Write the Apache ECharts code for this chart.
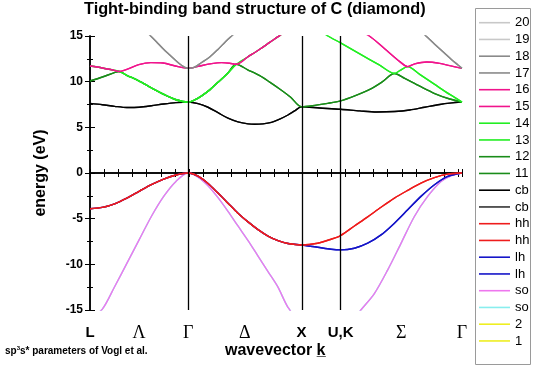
<!DOCTYPE html>
<html><head><meta charset="utf-8">
<script src="https://cdn.jsdelivr.net/npm/echarts@6/dist/echarts.min.js"></script>
<style>html,body{margin:0;padding:0;background:#fff}#c{width:537px;height:369px}</style>
</head><body><div id="c"></div>
<script>
// ---- data (k in units of 2*pi/a, energies in eV) ----
const symLines = [0.866, 1.866, 2.21];           // Gamma, X, U/K vertical lines
const kLabelPos = [0, 0.433, 0.866, 1.366, 1.866, 2.21, 2.745, 3.281];
const kLabels = ['L', 'Λ', 'Γ', 'Δ', 'X', 'U,K', 'Σ', 'Γ'];
const kMax = 3.281;
const yTicks = [-15, -10, -5, 0, 5, 10, 15];
const legendLabels = ['1','2','so','so','lh','lh','hh','hh','cb','cb','11','12','13','14','15','16','17','18','19','20'];

const band_1_2 = [[0,-18.5],[0.866,-21.5],[1.866,-17.5],[2.21,-18.0],[3.281,-21.5]];
const band_so = [[0,-15.9],[0.109,-14.9],[0.217,-12.45],[0.325,-9.9],[0.433,-7.33],[0.541,-4.76],[0.650,-2.56],[0.758,-0.92],[0.866,0],
  [0.953,-0.45],[1.041,-1.4],[1.129,-2.7],[1.217,-4.2],[1.305,-5.8],[1.394,-7.4],[1.482,-9.1],[1.570,-10.8],[1.658,-12.5],[1.746,-14.7],[1.866,-16.5],
  [2.04,-16.9],[2.21,-17.0],[2.332,-15.9],[2.389,-15.0],[2.508,-13.2],[2.626,-10.6],[2.743,-7.7],[2.861,-4.76],[2.978,-2.56],[3.096,-0.92],[3.184,-0.3],[3.281,0]];
const band_lh = [[0,-3.92],[0.109,-3.77],[0.217,-3.37],[0.325,-2.75],[0.433,-2.01],[0.541,-1.28],[0.650,-0.66],[0.758,-0.22],[0.866,0],
  [0.953,-0.35],[1.041,-1.15],[1.129,-2.2],[1.217,-3.3],[1.305,-4.4],[1.394,-5.35],[1.482,-6.2],[1.570,-6.9],[1.658,-7.4],[1.746,-7.72],[1.866,-7.88],
  [2.008,-8.13],[2.126,-8.35],[2.21,-8.42],[2.332,-8.24],[2.449,-7.69],[2.567,-6.78],[2.685,-5.49],[2.802,-4.03],[2.919,-2.56],[3.038,-1.28],[3.155,-0.37],[3.281,0]];
const band_hh = [[0,-3.92],[0.109,-3.77],[0.217,-3.37],[0.325,-2.75],[0.433,-2.01],[0.541,-1.28],[0.650,-0.66],[0.758,-0.22],[0.866,0],
  [0.953,-0.35],[1.041,-1.15],[1.129,-2.2],[1.217,-3.3],[1.305,-4.4],[1.394,-5.35],[1.482,-6.2],[1.570,-6.9],[1.658,-7.4],[1.746,-7.72],[1.866,-7.88],
  [2.008,-7.69],[2.126,-7.25],[2.21,-6.85],[2.332,-5.8],[2.449,-4.8],[2.567,-3.75],[2.685,-2.75],[2.802,-1.9],[2.919,-1.1],[3.038,-0.5],[3.155,-0.12],[3.281,0]];
const band_cb = [[0,7.62],[0.109,7.48],[0.217,7.3],[0.325,7.17],[0.433,7.2],[0.541,7.36],[0.650,7.56],[0.758,7.71],[0.866,7.77],
  [0.953,7.6],[1.041,7.2],[1.129,6.6],[1.217,6.0],[1.305,5.6],[1.394,5.38],[1.453,5.33],[1.526,5.38],[1.6,5.55],[1.673,5.9],[1.746,6.35],[1.805,6.8],[1.866,7.25],
  [2.026,7.12],[2.21,6.98],[2.379,6.8],[2.529,6.68],[2.687,6.73],[2.820,6.9],[2.952,7.2],[3.085,7.5],[3.173,7.65],[3.281,7.77]];
const band_11_12 = [[0,10.07],[0.109,10.51],[0.215,10.99],[0.256,11.12],[0.324,10.7],[0.430,10.1],[0.538,9.35],[0.644,8.65],[0.753,8.05],[0.866,7.77],
  [0.923,8.0],[0.985,8.45],[1.056,9.1],[1.126,9.9],[1.206,10.8],[1.291,11.9],[1.391,11.3],[1.497,10.65],[1.585,9.95],[1.673,9.2],[1.770,8.3],[1.866,7.25],
  [1.982,7.4],[2.097,7.62],[2.21,7.9],[2.335,8.45],[2.468,9.15],[2.574,9.95],[2.685,10.9],[2.776,10.35],[2.908,9.5],[3.040,8.7],[3.173,8.1],[3.281,7.77]];
const band_13_14 = [[0,11.71],[0.109,11.5],[0.215,11.24],[0.256,11.12],[0.324,10.7],[0.430,10.1],[0.538,9.35],[0.644,8.65],[0.753,8.05],[0.866,7.77],
  [0.923,8.0],[0.985,8.45],[1.056,9.1],[1.126,9.9],[1.206,10.8],[1.291,11.9],[1.391,12.7],[1.497,13.55],[1.585,14.3],[1.673,15.05],[1.779,15.9],[1.866,16.6],
  [1.982,16.0],[2.099,15.0],[2.21,14.25],[2.379,13.05],[2.555,11.8],[2.685,10.9],[2.732,11.2],[2.802,11.65],[2.908,10.8],[3.040,9.7],[3.173,8.6],[3.281,7.77]];
const band_15_16 = [[0,11.71],[0.109,11.5],[0.215,11.24],[0.256,11.12],[0.324,11.35],[0.430,11.87],[0.538,12.09],[0.644,12.05],[0.753,11.71],[0.866,11.46],
  [0.968,11.72],[1.073,11.98],[1.161,12.08],[1.232,12.02],[1.291,11.9],[1.391,12.7],[1.497,13.55],[1.585,14.3],[1.673,15.05],[1.779,15.9],[1.866,16.6],
  [2.04,16.5],[2.21,16.4],[2.335,15.8],[2.464,15.0],[2.599,13.6],[2.732,12.2],[2.802,11.65],[2.864,11.95],[2.970,12.15],[3.085,12.0],[3.173,11.75],[3.281,11.46]];
const band_17_18 = [[0,17.5],[0.3,16.8],[0.482,15.6],[0.535,15.0],[0.591,14.3],[0.645,13.6],[0.701,12.95],[0.754,12.35],[0.807,11.8],[0.866,11.46],
  [0.923,11.6],[0.985,12.1],[1.056,12.7],[1.126,13.5],[1.197,14.4],[1.259,15.1],[1.321,15.8],[1.6,17.5],[1.866,18.0],
  [2.21,17.6],[2.6,17.0],[2.864,16.1],[2.963,15.0],[3.040,14.1],[3.128,13.1],[3.190,12.4],[3.243,11.85],[3.281,11.46]];
const band_19_20 = [[0,19.0],[0.866,21.0],[1.866,19.5],[2.21,19.8],[3.281,21.0]];

// ---- build ----
const bandOf = [null, band_1_2, band_1_2, band_so, band_so, band_lh, band_lh, band_hh, band_hh, band_cb, band_cb,
  band_11_12, band_11_12, band_13_14, band_13_14, band_15_16, band_15_16, band_17_18, band_17_18, band_19_20, band_19_20];
const colorOf = [null, '#eeee22', '#eeee22', '#88eeee', '#ee77ee', '#1515c8', '#1515c8', '#ee1c1c', '#ee1c1c', '#333333', '#000000',
  '#1a8c1a', '#1a8c1a', '#22ee22', '#22ee22', '#f0148c', '#f0148c', '#8a8a8a', '#8a8a8a', '#c8c8c8', '#c8c8c8'];

const series = [];
for (let i = 1; i <= 20; i++) {
  series.push({
    type: 'line', name: 'band' + i, data: bandOf[i], symbol: 'none', showSymbol: false,
    smooth: 0.3, clip: true, silent: true, xAxisIndex: 0, yAxisIndex: 0,
    lineStyle: { color: colorOf[i], width: 1.4 }, itemStyle: { color: colorOf[i] }
  });
}
series[0].markLine = {
  silent: true, symbol: ['none', 'none'], label: { show: false }, animation: false,
  lineStyle: { color: '#000', width: 1.3, type: 'solid' },
  data: symLines.map(v => ({ xAxis: v }))
};

const legendNames = [];
for (let i = 20; i >= 1; i--) legendNames.push('band' + i);

const chart = echarts.init(document.getElementById('c'), null, { renderer: 'canvas' });
const axisLineStyle = { color: '#000', width: 1.5 };
chart.setOption({
  animation: false,
  backgroundColor: '#fff',
  textStyle: { fontFamily: 'Liberation Sans' },
  title: {
    text: 'Tight-binding band structure of C (diamond)', left: 84, top: 2, padding: 0,
    textStyle: { fontSize: 16.3, fontWeight: 'bold', color: '#000', fontFamily: 'Liberation Sans' }
  },
  grid: { left: 90, right: 75, top: 36, bottom: 59, containLabel: false },
  graphic: [
    { type: 'rect', z: 0, shape: { x: 475.5, y: 8.5, width: 55, height: 356 }, style: { fill: '#fff', stroke: '#9a9a9a', lineWidth: 1 } },
    { type: 'text', left: 5, top: 345, z: 10, style: {
        text: '{a|sp}{s|3}{a|s* parameters of Vogl et al.}',
        rich: { a: { fontSize: 10, fontWeight: 'bold', fontFamily: 'Liberation Sans', fill: '#000', lineHeight: 12 },
                s: { fontSize: 6, fontWeight: 'bold', fontFamily: 'Liberation Sans', fill: '#000', verticalAlign: 'top', lineHeight: 12 } } } },
    { type: 'text', left: 225, top: 343, z: 10, style: { text: 'wavevector k\u0332', font: 'bold 16px "Liberation Sans"', fill: '#000' } }
  ],
  legend: {
    orient: 'vertical', left: 479, top: 16.2, padding: 0, selectedMode: false,
    data: legendNames, icon: 'rect', itemWidth: 31, itemHeight: 1.6, itemGap: 3.75,
    formatter: n => legendLabels[parseInt(n.slice(4), 10) - 1],
    textStyle: { fontSize: 13, color: '#000', fontFamily: 'Liberation Sans' }
  },
  xAxis: [
    { type: 'value', min: 0, max: kMax, interval: 0.125, position: 'bottom',
      axisLine: { lineStyle: axisLineStyle }, axisTick: { inside: true, length: 4, lineStyle: { color: '#000', width: 1 } },
      axisLabel: { show: false }, splitLine: { show: false } },
    { type: 'value', min: 0, max: kMax, interval: 0.125, position: 'top',
      axisLine: { lineStyle: axisLineStyle }, axisTick: { inside: true, length: 4, lineStyle: { color: '#000', width: 1 } },
      axisLabel: { show: false }, splitLine: { show: false } },
    { type: 'value', min: 0, max: kMax, position: 'bottom',
      axisLine: { show: false }, axisTick: { show: false }, splitLine: { show: false },
      axisLabel: {
        customValues: kLabelPos, margin: 23, verticalAlign: 'middle', showMinLabel: true, showMaxLabel: true,
        formatter: v => {
          const i = kLabelPos.findIndex(p => Math.abs(p - v) < 1e-6);
          const t = kLabels[i] || '';
          return /[ΛΓΔΣ]/.test(t) ? '{g|' + t + '}' : '{r|' + t + '}';
        },
        rich: {
          g: { fontFamily: 'Liberation Serif', fontSize: 18, color: '#000' },
          r: { fontFamily: 'Liberation Sans', fontWeight: 'bold', fontSize: 15, color: '#000' }
        }
      } }
  ],
  yAxis: [
    { type: 'value', min: yTicks[0], max: yTicks[yTicks.length - 1], interval: 5, position: 'left',
      name: 'energy (eV)', nameLocation: 'middle', nameGap: 41,
      nameTextStyle: { fontSize: 16, fontWeight: 'bold', color: '#000', fontFamily: 'Liberation Sans' },
      axisLine: { lineStyle: axisLineStyle },
      axisTick: { inside: true, length: 5, lineStyle: { color: '#000', width: 1 } },
      minorTick: { show: true, splitNumber: 2, length: 3, lineStyle: { color: '#000', width: 1 } },
      axisLabel: { fontSize: 12, fontWeight: 'bold', color: '#000', margin: 7, fontFamily: 'Liberation Sans' },
      splitLine: { show: false }, minorSplitLine: { show: false } },
    { type: 'value', min: yTicks[0], max: yTicks[yTicks.length - 1], interval: 5, position: 'right',
      axisLine: { lineStyle: axisLineStyle },
      axisTick: { inside: true, length: 5, lineStyle: { color: '#000', width: 1 } },
      minorTick: { show: true, splitNumber: 2, length: 3, lineStyle: { color: '#000', width: 1 } },
      axisLabel: { show: false }, splitLine: { show: false }, minorSplitLine: { show: false } }
  ],
  series: series
});
</script>
</body></html>
